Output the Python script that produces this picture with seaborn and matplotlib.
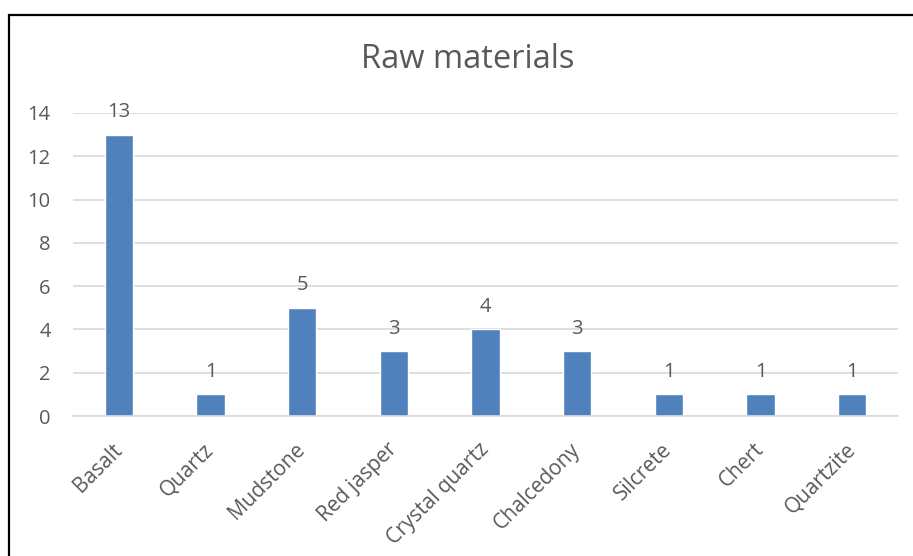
import matplotlib
matplotlib.use("Agg")
import matplotlib.pyplot as plt
import seaborn as sns
import pandas as pd
from matplotlib.patches import Rectangle

# Datos del gráfico
materiales = ["Basalt", "Quartz", "Mudstone", "Red jasper", "Crystal quartz",
              "Chalcedony", "Silcrete", "Chert", "Quartzite"]
conteos = [13, 1, 5, 3, 4, 3, 1, 1, 1]
y_ticks = [0, 2, 4, 6, 8, 10, 12, 14]

df = pd.DataFrame({"material": materiales, "n": conteos})

sns.set_theme(style="white")
plt.rcParams["font.family"] = ["Open Sans", "DejaVu Sans"]
gris = "#595959"

fig = plt.figure(figsize=(9.13, 5.56), dpi=100)
ax = fig.add_axes([73 / 913, 1 - 416 / 556, 825 / 913, 303 / 556])

sns.barplot(data=df, x="material", y="n", ax=ax, color="#4F81BD",
            width=0.31, saturation=1)

ax.set_ylim(0, 14)
ax.set_xlim(-0.5, len(materiales) - 0.5)
ax.set_yticks(y_ticks)
ax.yaxis.grid(True, color="#D9D9D9", linewidth=1.2)
ax.set_axisbelow(True)
for s in ["top", "right", "left"]:
    ax.spines[s].set_visible(False)
ax.spines["bottom"].set_color("#D9D9D9")
ax.spines["bottom"].set_linewidth(1.2)
ax.set_xlabel("")
ax.set_ylabel("")
ax.tick_params(axis="y", length=0, labelsize=14.5, labelcolor=gris, pad=16)
ax.tick_params(axis="x", length=0, labelsize=15, labelcolor=gris, pad=22)
plt.setp(ax.get_xticklabels(), rotation=45, ha="right", va="center",
         rotation_mode="anchor")

# etiquetas de valores
ax.bar_label(ax.containers[0], labels=[str(v) for v in conteos],
             padding=9, fontsize=14.5, color=gris)

fig.text(468 / 913, 1 - 59 / 556, "Raw materials", ha="center", va="center",
         fontsize=23.5, color=gris)

# borde del recuadro (recortado a la derecha y abajo)
fig.patches.append(Rectangle((9 / 913, -0.05), 1.2, 1 - 15 / 556 + 0.05,
                             transform=fig.transFigure, fill=False,
                             edgecolor="black", linewidth=1.6))

fig.savefig("out.png", dpi=100)
